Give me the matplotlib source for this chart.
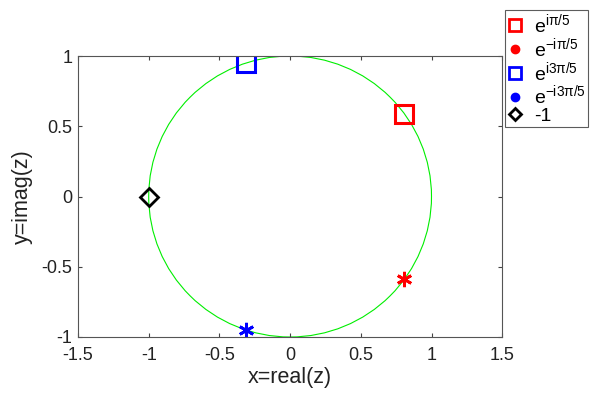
import matplotlib
matplotlib.use("Agg")
import matplotlib.pyplot as plt
from matplotlib.patches import Circle
from matplotlib.lines import Line2D

plt.rcParams['font.family'] = ['Liberation Sans', 'DejaVu Sans']
plt.rcParams['mathtext.fontset'] = 'custom'
plt.rcParams['mathtext.rm'] = 'Liberation Sans'
plt.rcParams['mathtext.it'] = 'Liberation Sans'

# data: points on the unit circle
labels = [r'$\mathregular{e^{i\pi/5}}$', r'$\mathregular{e^{-i\pi/5}}$',
          r'$\mathregular{e^{i3\pi/5}}$', r'$\mathregular{e^{-i3\pi/5}}$', '-1']
xs = [0.809, 0.809, -0.309, -0.309, -1.0]
ys = [0.588, -0.588, 0.951, -0.951, 0.0]
markers = ['s', '*', 's', '*', 'D']
colors = ['#ff0000', '#ff0000', '#0000ff', '#0000ff', '#000000']
circle_radius = 1.0
xticks = [-1.5, -1, -0.5, 0, 0.5, 1, 1.5]
xticklabels = ['-1.5', '-1', '-0.5', '0', '0.5', '1', '1.5']
yticks = [-1, -0.5, 0, 0.5, 1]
yticklabels = ['-1', '-0.5', '0', '0.5', '1']

fig = plt.figure(figsize=(6, 3.93), dpi=100)
ax = fig.add_axes([0.13, 0.1425, 0.707, 0.715])

ax.add_patch(Circle((0, 0), circle_radius, fill=False, edgecolor='#00ee00', lw=0.8))

handles = []
for x, y, m, c, lab in zip(xs, ys, markers, colors, labels):
    if m == 's':
        ax.plot([x], [y], linestyle='none', marker='s', ms=12.5, mfc='none', mec=c, mew=2.2)
        handles.append(Line2D([], [], linestyle='none', marker='s', ms=8, mfc='none', mec=c, mew=2, label=lab))
    elif m == '*':
        ax.plot([x], [y], linestyle='none', marker=(6, 2, 0), ms=11, mec=c, mfc=c, mew=2)
        handles.append(Line2D([], [], linestyle='none', marker='o', ms=6, mfc=c, mec=c, label=lab))
    else:
        ax.plot([x], [y], linestyle='none', marker='D', ms=9, mfc='none', mec=c, mew=2)
        handles.append(Line2D([], [], linestyle='none', marker='D', ms=6, mfc='none', mec=c, mew=2, label=lab))

ax.set_xlim(-1.5, 1.5)
ax.set_ylim(-1, 1)
ax.set_xticks(xticks)
ax.set_xticklabels(xticklabels)
ax.set_yticks(yticks)
ax.set_yticklabels(yticklabels)
ax.tick_params(direction='in', top=True, right=True, labelsize=13, length=3,
               color='#444444', labelcolor='#222222')
ax.tick_params(axis='x', pad=7.5)
ax.tick_params(axis='y', pad=4)
for s in ax.spines.values():
    s.set_color('#555555')
    s.set_linewidth(0.8)
ax.set_xlabel('x=real(z)', fontsize=15.5, labelpad=2, color='#222222')
ax.set_ylabel('y=imag(z)', fontsize=15.5, labelpad=6, color='#222222')

leg = fig.legend(handles=handles, loc='upper left', bbox_to_anchor=(505 / 600, 1 - 10 / 393),
                 fontsize=14, frameon=True, fancybox=False, edgecolor='#333333',
                 handlelength=0.8, handletextpad=0.6, labelspacing=0.0, borderpad=0.1,
                 borderaxespad=0)
leg.get_frame().set_linewidth(0.8)

fig.savefig('out.png', dpi=100)
